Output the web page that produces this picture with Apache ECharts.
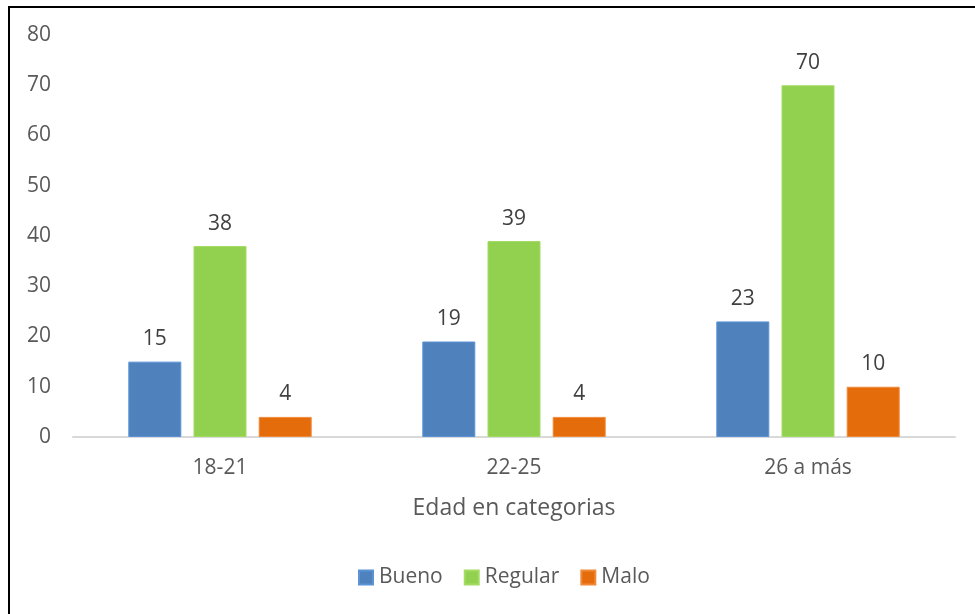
<!DOCTYPE html>
<html>
<head>
<meta charset="utf-8">
<script src="https://cdn.jsdelivr.net/npm/echarts@6/dist/echarts.min.js"></script>
<style>
html,body{margin:0;padding:0;background:#fff;}
#chart{width:975px;height:614px;}
</style>
</head>
<body>
<div id="chart"></div>
<script>
const categories = ['18-21', '22-25', '26 a más'];
const bueno = [15, 19, 23];
const regular = [38, 39, 70];
const malo = [4, 4, 10];
const seriesNames = ['Bueno', 'Regular', 'Malo'];
const yTicks = [0, 10, 20, 30, 40, 50, 60, 70, 80];

const font = 'Open Sans';
const textColor = '#595959';
const chart = echarts.init(document.getElementById('chart'));

function mkSeries(name, data, color, border) {
  return {
    name: name,
    type: 'bar',
    data: data,
    barWidth: 53,
    barGap: '23%',
    itemStyle: { color: color, borderColor: border, borderWidth: 1 },
    label: {
      show: true, position: 'top', distance: 12,
      color: '#404040', fontFamily: font, fontSize: 21
    }
  };
}

chart.setOption({
  animation: false,
  backgroundColor: '#fff',
  graphic: [{
    type: 'polyline',
    shape: { points: [[9, 614], [9, 7], [975, 7]] },
    style: { stroke: '#000', lineWidth: 2, fill: null },
    z: 100
  }],
  grid: { left: 73, right: 20, top: 35, bottom: 177 },
  legend: {
    bottom: 21,
    left: 353,
    itemWidth: 14, itemHeight: 14, itemGap: 21,
    icon: 'rect',
    textStyle: { color: textColor, fontFamily: font, fontSize: 21, padding: [0, 0, 0, 1] },
    data: seriesNames
  },
  xAxis: {
    type: 'category',
    data: categories,
    name: 'Edad en categorias',
    nameLocation: 'middle',
    nameGap: 60,
    nameTextStyle: { color: textColor, fontFamily: font, fontSize: 23 },
    axisLine: { lineStyle: { color: '#d9d9d9', width: 2 } },
    axisTick: { show: false },
    axisLabel: { color: textColor, fontFamily: font, fontSize: 21, margin: 21 }
  },
  yAxis: {
    type: 'value',
    min: 0, max: 80, interval: 10,
    axisLine: { show: false },
    axisTick: { show: false },
    splitLine: { show: false },
    axisLabel: { color: textColor, fontFamily: font, fontSize: 21, margin: 22,
      formatter: v => yTicks.includes(v) ? String(v) : '' }
  },
  series: [
    mkSeries(seriesNames[0], bueno, '#4f81bd', '#5b93d6'),
    mkSeries(seriesNames[1], regular, '#92d050', '#a3dc63'),
    mkSeries(seriesNames[2], malo, '#e46c0a', '#f08a3a')
  ]
});
</script>
</body>
</html>
